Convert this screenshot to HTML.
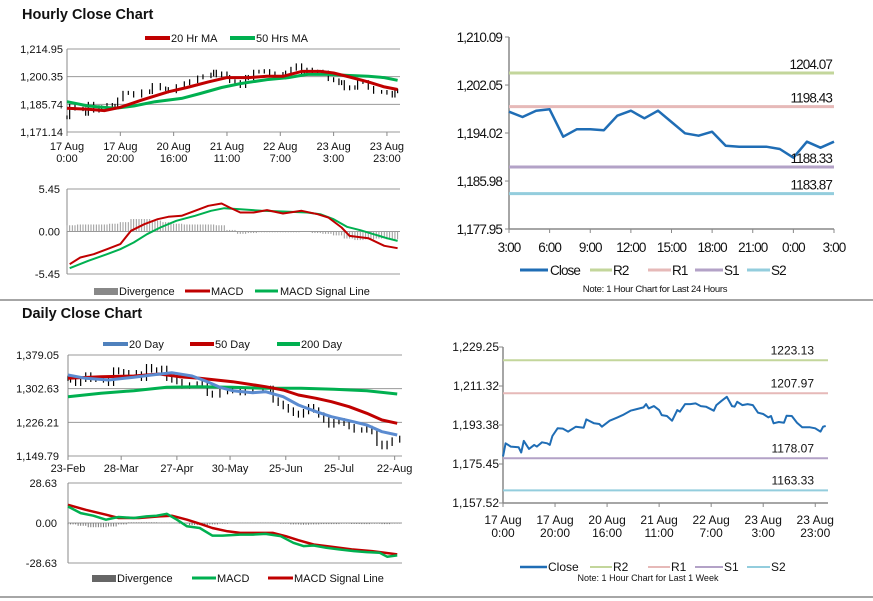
<!DOCTYPE html>
<html><head><meta charset="utf-8">
<style>
html,body{margin:0;padding:0;background:#fff;}
svg{display:block;font-family:"Liberation Sans",Arial,sans-serif;}
.t11{font-size:11px;fill:#111;}
.t12{font-size:12px;fill:#111;}
.n13{font-size:13.5px;fill:#111;letter-spacing:-0.9px;}
.title{font-size:14.5px;font-weight:bold;fill:#111;}
</style></head>
<body>
<svg id="root" width="873" height="601" viewBox="0 0 873 601">
<text x="22" y="19" class="title">Hourly Close Chart</text>
<text x="22" y="318" class="title">Daily Close Chart</text>
<line x1="0" y1="300" x2="873" y2="300" stroke="#888" stroke-width="1.5"/>
<line x1="0" y1="597" x2="873" y2="597" stroke="#888" stroke-width="1.5"/>

<g>
<line x1="145" y1="38" x2="170" y2="38" stroke="#c00000" stroke-width="4"/>
<text x="171" y="42" class="t11">20 Hr MA</text>
<line x1="230" y1="38" x2="255" y2="38" stroke="#00b050" stroke-width="4"/>
<text x="256" y="42" class="t11">50 Hrs MA</text>
</g>
<g>
<rect x="94" y="288" width="24" height="7" fill="#888"/>
<text x="119" y="295" class="t11">Divergence</text>
<line x1="185" y1="291" x2="210" y2="291" stroke="#c00000" stroke-width="3"/>
<text x="211" y="295" class="t11">MACD</text>
<line x1="255" y1="291" x2="278" y2="291" stroke="#00b050" stroke-width="3"/>
<text x="280" y="295" class="t11">MACD Signal Line</text>
</g>
<g>
<line x1="103" y1="344" x2="128" y2="344" stroke="#4f81bd" stroke-width="4"/>
<text x="129" y="348" class="t11">20 Day</text>
<line x1="190" y1="344" x2="214" y2="344" stroke="#c00000" stroke-width="4"/>
<text x="215" y="348" class="t11">50 Day</text>
<line x1="277" y1="344" x2="300" y2="344" stroke="#00b050" stroke-width="4"/>
<text x="301" y="348" class="t11">200 Day</text>
</g>
<g>
<rect x="92" y="575" width="24" height="7" fill="#666"/>
<text x="117" y="582" class="t11">Divergence</text>
<line x1="192" y1="578" x2="216" y2="578" stroke="#00b050" stroke-width="3"/>
<text x="217" y="582" class="t11">MACD</text>
<line x1="268" y1="578" x2="293" y2="578" stroke="#c00000" stroke-width="3"/>
<text x="294" y="582" class="t11">MACD Signal Line</text>
</g>
<g>
<line x1="520" y1="270" x2="548" y2="270" stroke="#1f6db5" stroke-width="3"/>
<text x="550" y="275" class="n13">Close</text>
<line x1="590" y1="270" x2="612" y2="270" stroke="#c3d69b" stroke-width="3"/>
<text x="613" y="275" class="n13">R2</text>
<line x1="648" y1="270" x2="671" y2="270" stroke="#e6b9b8" stroke-width="3"/>
<text x="672" y="275" class="n13">R1</text>
<line x1="695" y1="270" x2="723" y2="270" stroke="#b3a2c7" stroke-width="3"/>
<text x="724" y="275" class="n13">S1</text>
<line x1="747" y1="270" x2="770" y2="270" stroke="#93cddd" stroke-width="3"/>
<text x="771" y="275" class="n13">S2</text>
<text x="655" y="292" text-anchor="middle" style="font-size:9.5px;fill:#111;letter-spacing:-0.3px">Note: 1 Hour Chart for Last 24 Hours</text>
</g>
<g>
<line x1="520" y1="567" x2="547" y2="567" stroke="#1f6db5" stroke-width="2.5"/>
<text x="548" y="571" class="t12">Close</text>
<line x1="590" y1="567" x2="612" y2="567" stroke="#c3d69b" stroke-width="2"/>
<text x="613" y="571" class="t12">R2</text>
<line x1="648" y1="567" x2="670" y2="567" stroke="#e6b9b8" stroke-width="2"/>
<text x="671" y="571" class="t12">R1</text>
<line x1="695" y1="567" x2="723" y2="567" stroke="#b3a2c7" stroke-width="2"/>
<text x="724" y="571" class="t12">S1</text>
<line x1="747" y1="567" x2="770" y2="567" stroke="#93cddd" stroke-width="2"/>
<text x="771" y="571" class="t12">S2</text>
<text x="648" y="581" text-anchor="middle" style="font-size:9px;fill:#111">Note: 1 Hour Chart for Last 1 Week</text>
</g>
</svg>
<script>
// ---------- data ----------
// hourly close (last week), [hour index, value]
const hwIdx = [0,1,3,6,7,8,10,12,13,15,17,18,19,21,23,25,28,31,32,35,37,38,41,44,46,49,51,54,55,56,58,60,61,63,65,67,68,70,72,74,76,78,81,82,84,86,88,89,90,92,94,96,98,100,102,103,104,106,108,109,111,113,115,118,120,122,123,124];
const hwClose = [1178.89,1184.99,1183.46,1183.16,1180.72,1186.06,1182.40,1184.23,1183.46,1185.45,1184.99,1184.23,1188.35,1191.86,1191.71,1190.33,1192.62,1192.16,1195.98,1194.15,1193.84,1192.62,1195.37,1196.89,1197.96,1199.95,1200.56,1201.47,1203.00,1201.02,1202.08,1200.25,1197.96,1197.51,1195.37,1200.25,1199.49,1203.00,1203.00,1203.30,1202.08,1201.78,1199.95,1202.54,1204.53,1206.36,1202.08,1201.78,1204.07,1202.54,1203.00,1202.54,1199.03,1198.42,1196.89,1197.51,1194.15,1194.76,1194.45,1197.66,1197.51,1194.45,1192.32,1192.32,1191.86,1190.33,1192.62,1192.93];
const ma20Idx = [0,8,14,20,28,38,45,53,60,68,75,81,88,95,100,106,113,119,124];
const ma20Val = [1183.66,1183.14,1182.44,1184.18,1188.00,1192.35,1194.61,1197.56,1199.83,1199.83,1200.52,1200.52,1203.13,1203.13,1202.26,1200.17,1197.56,1194.96,1193.57];
const ma50Idx = [0,8,18,25,33,43,50,58,65,75,83,90,98,105,113,119,124];
const ma50Val = [1187.13,1184.87,1183.66,1184.87,1187.13,1188.87,1191.48,1194.61,1196.70,1198.78,1199.83,1201.56,1201.56,1201.04,1200.52,1199.83,1198.43];
const hTickLabels = [["17 Aug","0:00"],["17 Aug","20:00"],["20 Aug","16:00"],["21 Aug","11:00"],["22 Aug","7:00"],["23 Aug","3:00"],["23 Aug","23:00"]];
const hTickIdx = [0,20,40,60,80,100,120];
const hPriceTicks = [1171.14,1185.74,1200.35,1214.95];
// hourly MACD
const hMacdIdx = [1,5,10,15,20,24,29,34,38,43,48,53,58,61,65,70,75,81,88,94,98,103,106,113,119,124];
const hMacdVal = [-4.19,-3.33,-2.91,-2.27,-1.62,0.09,0.94,1.58,1.88,2.01,2.65,3.29,3.59,3.08,2.44,2.44,2.74,2.31,2.65,2.22,1.80,0.51,-0.56,-0.86,-1.84,-2.14];
const hSigIdx = [1,8,15,20,25,30,35,41,48,54,59,65,73,81,90,95,100,105,110,115,120,124];
const hSigVal = [-4.70,-3.76,-2.91,-2.27,-1.41,-0.34,0.51,1.37,2.01,2.65,2.99,2.86,2.65,2.57,2.44,2.22,1.58,0.60,0.17,-0.34,-0.86,-1.20];
const hDiv = [0.8,0.9,0.9,0.9,1.0,1.2,1.6,1.6,1.4,1.2,1.0,0.9,0.9,0.9,0.8,0.2,-0.3,-0.2,-0.1,-0.1,-0.1,-0.1,0.0,-0.2,-0.3,-0.5,-0.9,-1.1,-1.0,-0.9,-1.0,-1.0];
const hMacdTicks = [-5.45,0,5.45];
// last 24 hours
const dayHours = ["3:00","4:00","5:00","6:00","7:00","8:00","9:00","10:00","11:00","12:00","13:00","14:00","15:00","16:00","17:00","18:00","19:00","20:00","21:00","22:00","23:00","0:00","1:00","2:00","3:00"];
const dayClose = [1197.59,1196.70,1197.75,1197.99,1193.40,1194.64,1194.64,1194.47,1196.92,1197.75,1196.48,1197.75,1195.86,1193.97,1193.57,1194.24,1191.89,1191.73,1191.73,1191.73,1191.34,1189.88,1192.56,1191.56,1192.56];
const dayLevelNames = ["R2","R1","S1","S2"];
const dayLevels = [1204.07,1198.43,1188.33,1183.87];
const dayTicks = [1177.95,1185.98,1194.02,1202.05,1210.09];
const weekLevels = [1223.13,1207.97,1178.07,1163.33];
const weekTicks = [1157.52,1175.45,1193.38,1211.32,1229.25];
// daily
const dIdx = [0,1,3,5,7,9,11,14,16,18,20,22,24,27,29,31,33,35,37,39,41,43,45,48,51,53,55,57,60,63,65,68,70,73,77,80,81,83,85,87,89,91,93,95,97,99,101,103,105,107,109,111,113,116,118,120,122,124,126,128,131];
const dClose = [1326.09,1322.30,1314.74,1323.82,1333.65,1323.82,1326.09,1322.30,1314.74,1345.00,1341.22,1333.65,1338.95,1335.92,1326.09,1352.57,1345.00,1345.00,1348.79,1326.09,1322.30,1318.52,1308.69,1310.96,1313.23,1318.52,1292.04,1288.26,1295.82,1298.09,1301.12,1293.55,1298.09,1301.12,1299.61,1303.39,1276.91,1269.34,1261.78,1254.21,1246.64,1242.86,1250.43,1261.78,1254.21,1242.86,1231.51,1220.16,1227.73,1230.00,1223.95,1216.38,1208.81,1208.81,1212.60,1205.03,1178.55,1170.99,1178.55,1186.12,1189.90];
const d20Idx = [0,7,16,26,33,41,49,55,60,65,73,78,85,91,98,104,111,118,124,130];
const d20Val = [1333.65,1326.09,1322.30,1328.36,1333.65,1338.95,1331.38,1318.52,1305.66,1298.09,1293.55,1295.82,1284.47,1265.56,1250.43,1239.08,1230.00,1220.16,1205.03,1197.47];
const d50Idx = [0,13,26,36,44,52,65,78,85,91,98,104,111,118,124,130];
const d50Val = [1326.09,1329.87,1331.38,1335.92,1329.87,1326.09,1318.52,1307.17,1299.61,1288.26,1280.69,1273.13,1261.78,1246.64,1231.51,1223.95];
const d200Idx = [0,13,26,39,52,65,78,92,105,118,130];
const d200Val = [1284.47,1292.04,1298.09,1305.66,1307.17,1305.66,1303.39,1303.39,1301.12,1298.09,1290.53];
const dTickLabels = ["23-Feb","28-Mar","27-Apr","30-May","25-Jun","25-Jul","22-Aug"];
const dTickIdx = [0,21,43,64,86,107,129];
const dPriceTicks = [1149.79,1226.21,1302.63,1379.05];
const dMacdIdx = [0,5,10,15,18,20,26,31,35,39,43,47,52,57,61,68,73,78,84,89,93,97,102,107,113,118,123,126,130];
const dMacdVal = [11.83,7.10,5.21,2.37,3.55,4.26,3.55,4.73,5.21,6.62,2.37,-2.37,-3.55,-8.99,-8.99,-8.28,-8.28,-7.81,-9.46,-14.20,-16.56,-16.09,-17.75,-18.93,-20.11,-20.82,-21.29,-24.13,-23.19];
const dSigIdx = [0,7,15,20,28,36,41,47,52,57,63,68,76,81,86,91,97,104,112,120,130];
const dSigVal = [13.01,9.46,5.92,3.55,3.55,4.73,5.21,2.37,-0.47,-3.55,-5.92,-7.10,-7.10,-7.10,-9.46,-12.30,-15.38,-17.04,-18.93,-20.11,-22.48];
const dDiv = [-1,-2,-3,-3,-2.5,-1,0.5,0.5,0.5,0.3,0.3,-0.5,-1.5,-1.5,-1,-0.5,0,0.2,0.2,0.3,0.2,-0.5,-1,-1.2,-1,-0.8,-0.8,-0.5,-0.7,-0.8,-0.5,-0.8,-0.4];
const dMacdTicks = [-28.63,0,28.63];

// ---------- drawing ----------
const NS = "http://www.w3.org/2000/svg";
const root = document.getElementById("root");
function mk(tag, attrs, name, parent) {
  const el = document.createElementNS(NS, tag);
  for (const k in attrs) el.setAttribute(k, attrs[k]);
  
  
  (parent || root).appendChild(el);
  return el;
}
function lin(d0, d1, r0, r1) { return v => r0 + (v - d0) / (d1 - d0) * (r1 - r0); }
function fmt(v) { return v.toLocaleString("en-US", {minimumFractionDigits: 2, maximumFractionDigits: 2}); }
function poly(xs, ys, sx, sy, color, w, name, g) {
  const pts = xs.map((x, i) => sx(x).toFixed(1) + "," + sy(ys[i]).toFixed(1)).join(" ");
  return mk("polyline", {points: pts, fill: "none", stroke: color, "stroke-width": w, "stroke-linejoin": "round"}, name, g);
}
function yAxisGrid(g, ticks, sx0, sx1, sy, labX, cls, name, fmtf) {
  ticks.forEach(t => {
    const y = sy(t);
    mk("line", {x1: sx0, y1: y, x2: sx1, y2: y, stroke: "#999", "stroke-width": 1}, name + "-gridline", g);
    const tx = mk("text", {x: labX, y: y + 4, "text-anchor": "end", class: cls}, name + "-tick-label", g);
    tx.textContent = fmtf(t);
  });
}

// Hourly price chart
(function () {
  const g = mk("g", {}, "hourly-price-chart");
  const sx = lin(0, 124.9, 67, 400), sy = lin(1171.14, 1214.95, 132, 49);
  yAxisGrid(g, hPriceTicks, 67, 400, sy, 63, "t11", "hourly-price-y", fmt);
  mk("line", {x1: 67, y1: 49, x2: 67, y2: 132, stroke: "#888"}, "hourly-price-y-axis", g);
  hTickIdx.forEach((ti, k) => {
    const x = sx(ti);
    mk("line", {x1: x, y1: 132, x2: x, y2: 136, stroke: "#888"}, "hourly-price-x-tick", g);
    const t1 = mk("text", {x: x, y: 150, "text-anchor": "middle", class: "t11"}, "hourly-price-x-label", g);
    t1.textContent = hTickLabels[k][0];
    const t2 = mk("text", {x: x, y: 162, "text-anchor": "middle", class: "t11"}, "hourly-price-x-label", g);
    t2.textContent = hTickLabels[k][1];
  });
  hwIdx.forEach((ix, i) => {
    const prev = i > 0 ? hwClose[i - 1] : hwClose[i];
    const hi = Math.max(prev, hwClose[i]) + 1.0, lo = Math.min(prev, hwClose[i]) - 1.0;
    mk("line", {x1: sx(ix), y1: sy(hi), x2: sx(ix), y2: sy(lo), stroke: "#000", "stroke-width": 1.2}, "hourly-price-bar", g);
  });
  poly(ma50Idx, ma50Val, sx, sy, "#00b050", 3, "ma-50hrs-line", g);
  poly(ma20Idx, ma20Val, sx, sy, "#c00000", 3, "ma-20hr-line", g);
})();

// Hourly MACD
(function () {
  const g = mk("g", {}, "hourly-macd-chart");
  const sx = lin(0, 124.9, 67, 400), sy = lin(-5.45, 5.45, 274, 189);
  yAxisGrid(g, hMacdTicks, 67, 400, sy, 60, "t11", "hourly-macd-y", v => v.toFixed(2));
  mk("line", {x1: 67, y1: 189, x2: 67, y2: 274, stroke: "#888"}, "hourly-macd-y-axis", g);
  hDiv.forEach((d, i) => {
    for (let k = 0; k < 4; k++) {
      const x = sx(i * 4 + k);
      if (x > 399) continue;
      mk("line", {x1: x, y1: sy(0), x2: x, y2: sy(d), stroke: "#999", "stroke-width": 1}, "hourly-divergence-bar", g);
    }
  });
  poly(hSigIdx, hSigVal, sx, sy, "#00b050", 2, "hourly-macd-signal-line", g);
  poly(hMacdIdx, hMacdVal, sx, sy, "#c00000", 2, "hourly-macd-line", g);
})();

// Last 24 hours chart
(function () {
  const g = mk("g", {}, "last24h-chart");
  const sx = lin(0, 24, 509, 834), sy = lin(1177.95, 1210.09, 229, 37);
  mk("line", {x1: 509, y1: 37, x2: 509, y2: 229, stroke: "#888", "stroke-width": 1.5}, "last24h-y-axis", g);
  mk("line", {x1: 509, y1: 229, x2: 834, y2: 229, stroke: "#888", "stroke-width": 1.5}, "last24h-x-axis", g);
  dayTicks.forEach(t => {
    mk("line", {x1: 505, y1: sy(t), x2: 509, y2: sy(t), stroke: "#888"}, "last24h-y-tick", g);
    const tx = mk("text", {x: 502, y: sy(t) + 5, "text-anchor": "end", class: "n13"}, "last24h-y-tick-label", g);
    tx.textContent = fmt(t);
  });
  dayHours.forEach((h, i) => {
    if (i % 3 !== 0) return;
    mk("line", {x1: sx(i), y1: 229, x2: sx(i), y2: 233, stroke: "#888"}, "last24h-x-tick", g);
    const tx = mk("text", {x: sx(i), y: 252, "text-anchor": "middle", class: "n13"}, "last24h-x-label", g);
    tx.textContent = h;
  });
  const cols = ["#c3d69b", "#e6b9b8", "#b3a2c7", "#93cddd"];
  dayLevels.forEach((v, i) => {
    mk("line", {x1: 509, y1: sy(v), x2: 834, y2: sy(v), stroke: cols[i], "stroke-width": 3}, "level-" + dayLevelNames[i].toLowerCase() + "-line", g);
  });
  poly(dayHours.map((h, i) => i), dayClose, sx, sy, "#1f6db5", 2.5, "last24h-close-line", g);
  dayLevels.forEach((v, i) => {
    const tx = mk("text", {x: 832, y: sy(v) - 4, "text-anchor": "end", class: "n13"}, "level-" + dayLevelNames[i].toLowerCase() + "-label", g);
    tx.textContent = v.toFixed(2);
  });
})();

// Daily price chart
(function () {
  const g = mk("g", {}, "daily-price-chart");
  const sx = lin(0, 131.9, 68, 402), sy = lin(1149.79, 1379.05, 456, 355);
  yAxisGrid(g, dPriceTicks, 68, 402, sy, 59, "t11", "daily-price-y", fmt);
  mk("line", {x1: 68, y1: 355, x2: 68, y2: 456, stroke: "#888"}, "daily-price-y-axis", g);
  dTickIdx.forEach((ti, k) => {
    const x = sx(ti);
    mk("line", {x1: x, y1: 456, x2: x, y2: 460, stroke: "#888"}, "daily-price-x-tick", g);
    const tx = mk("text", {x: x, y: 472, "text-anchor": "middle", class: "t11"}, "daily-price-x-label", g);
    tx.textContent = dTickLabels[k];
  });
  dIdx.forEach((ix, i) => {
    const prev = i > 0 ? dClose[i - 1] : dClose[i];
    const hi = Math.max(prev, dClose[i]) + 6, lo = Math.min(prev, dClose[i]) - 6;
    mk("line", {x1: sx(ix), y1: sy(hi), x2: sx(ix), y2: sy(lo), stroke: "#000", "stroke-width": 1.2}, "daily-price-bar", g);
  });
  poly(d200Idx, d200Val, sx, sy, "#00b050", 3, "ma-200day-line", g);
  poly(d50Idx, d50Val, sx, sy, "#c00000", 3, "ma-50day-line", g);
  poly(d20Idx, d20Val, sx, sy, "#5b8bd0", 3, "ma-20day-line", g);
})();

// Daily MACD
(function () {
  const g = mk("g", {}, "daily-macd-chart");
  const sx = lin(0, 131.9, 68, 402), sy = lin(-28.63, 28.63, 563, 483);
  yAxisGrid(g, dMacdTicks, 68, 402, sy, 57, "t11", "daily-macd-y", v => v.toFixed(2));
  mk("line", {x1: 68, y1: 483, x2: 68, y2: 563, stroke: "#888"}, "daily-macd-y-axis", g);
  dDiv.forEach((d, i) => {
    for (let k = 0; k < 4; k++) {
      const x = sx(i * 4 + k);
      if (x > 401) continue;
      mk("line", {x1: x, y1: sy(0), x2: x, y2: sy(d), stroke: "#777", "stroke-width": 1}, "daily-divergence-bar", g);
    }
  });
  poly(dSigIdx, dSigVal, sx, sy, "#c00000", 2.5, "daily-macd-signal-line", g);
  poly(dMacdIdx, dMacdVal, sx, sy, "#00b050", 2.5, "daily-macd-line", g);
})();

// Last week chart
(function () {
  const g = mk("g", {}, "last-week-chart");
  const sx = lin(0, 124.9, 503, 828), sy = lin(1157.52, 1229.25, 503, 347);
  mk("line", {x1: 503, y1: 347, x2: 503, y2: 503, stroke: "#888", "stroke-width": 1.5}, "last-week-y-axis", g);
  mk("line", {x1: 503, y1: 503, x2: 828, y2: 503, stroke: "#888", "stroke-width": 1.5}, "last-week-x-axis", g);
  weekTicks.forEach(t => {
    mk("line", {x1: 499, y1: sy(t), x2: 503, y2: sy(t), stroke: "#888"}, "last-week-y-tick", g);
    const tx = mk("text", {x: 499, y: sy(t) + 4, "text-anchor": "end", class: "t12"}, "last-week-y-tick-label", g);
    tx.textContent = fmt(t);
  });
  hTickIdx.forEach((ti, k) => {
    const x = sx(ti);
    mk("line", {x1: x, y1: 503, x2: x, y2: 507, stroke: "#888"}, "last-week-x-tick", g);
    const t1 = mk("text", {x: x, y: 524, "text-anchor": "middle", class: "t12"}, "last-week-x-label", g);
    t1.textContent = hTickLabels[k][0];
    const t2 = mk("text", {x: x, y: 537, "text-anchor": "middle", class: "t12"}, "last-week-x-label", g);
    t2.textContent = hTickLabels[k][1];
  });
  const cols = ["#c3d69b", "#e6b9b8", "#b3a2c7", "#93cddd"];
  weekLevels.forEach((v, i) => {
    mk("line", {x1: 503, y1: sy(v), x2: 828, y2: sy(v), stroke: cols[i], "stroke-width": 2}, "week-level-" + dayLevelNames[i].toLowerCase() + "-line", g);
    const tx = mk("text", {x: 814, y: sy(v) - 6, "text-anchor": "end", class: "t12"}, "week-level-" + dayLevelNames[i].toLowerCase() + "-label", g);
    tx.textContent = v.toFixed(2);
  });
  poly(hwIdx, hwClose, sx, sy, "#1f6db5", 2, "last-week-close-line", g);
})();
</script>
</body></html>
